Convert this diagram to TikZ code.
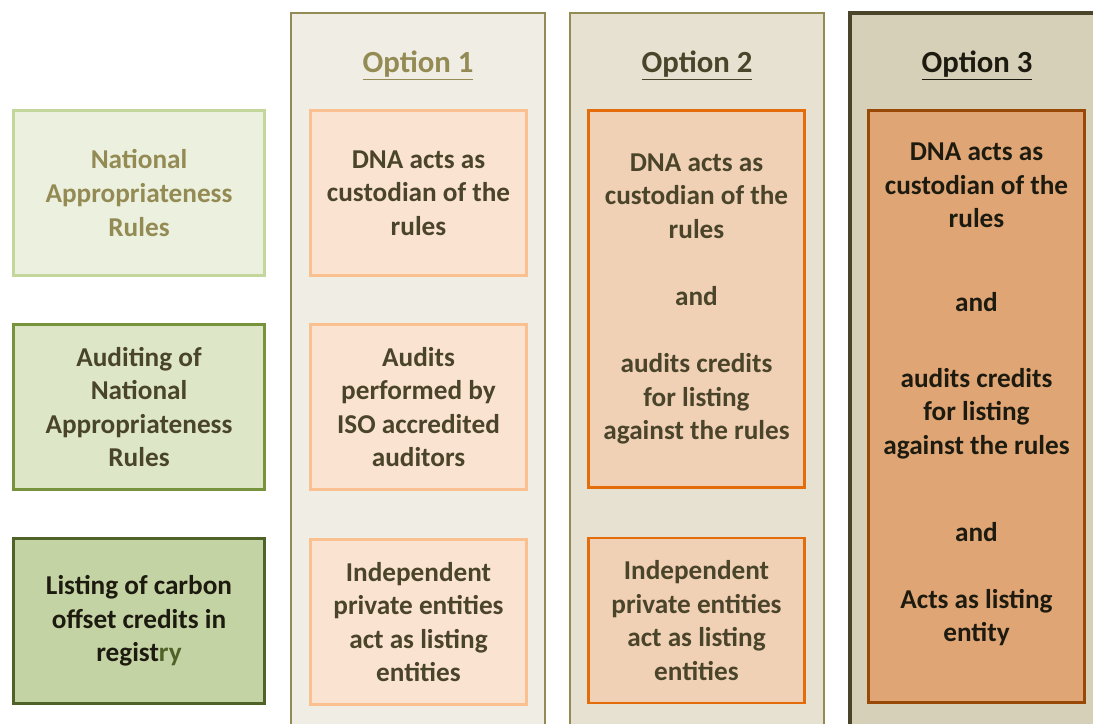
\documentclass[tikz,border=0pt]{standalone}
\usepackage{fontspec}
\setmainfont{Carlito}

\definecolor{colonefill}{HTML}{EFEDE4}
\definecolor{coltwofill}{HTML}{E6E1D0}
\definecolor{colthreefill}{HTML}{D6D0B8}
\definecolor{colline}{HTML}{948A54}
\definecolor{colthreeline}{HTML}{4A452A}
\definecolor{txtolive}{HTML}{948A54}
\definecolor{txtbrown}{HTML}{4A452A}
\definecolor{txtdark}{HTML}{1D1B10}
\definecolor{ruleafill}{HTML}{EBF1DE}
\definecolor{rulealine}{HTML}{C3D69B}
\definecolor{rulebfill}{HTML}{DDE7C8}
\definecolor{ruleblline}{HTML}{77933C}
\definecolor{rulecfill}{HTML}{C4D3A4}
\definecolor{ruleclline}{HTML}{4F6228}
\definecolor{optafill}{HTML}{FBE3D2}
\definecolor{optaline}{HTML}{FAC090}
\definecolor{optbfill}{HTML}{F1D1B5}
\definecolor{optbline}{HTML}{E46C0A}
\definecolor{optcfill}{HTML}{E0A574}
\definecolor{optcline}{HTML}{984807}

\tikzset{
  boxtext/.style={align=center, font=\bfseries\fontsize{15.5}{19.1}\selectfont},
  rowbox/.style={draw, boxtext, line width=1.6pt, minimum width=5.02cm, minimum height=3.3cm},
  optbox/.style={draw, boxtext, line width=1.6pt, minimum width=4.32cm, minimum height=3.3cm},
  opthead/.style={anchor=base, font=\bfseries\fontsize{17.5}{21}\selectfont},
}

\begin{document}
\begin{tikzpicture}[x=0.02cm, y=-0.02cm]
            \useasboundingbox (0,0) rectangle (1093,724);

            % column backgrounds
            \fill[colonefill] (291,13) rectangle (545,724);
            \draw[colline, line width=1.6pt] (291,724) -- (291,13) -- (545,13) -- (545,724);
            \fill[coltwofill] (570,13) rectangle (824,724);
            \draw[colline, line width=1.6pt] (570,724) -- (570,13) -- (824,13) -- (824,724);
            \fill[colthreefill] (850,13) rectangle (1093,724);
            \draw[colthreeline, line width=1.8pt] (850,724) -- (850,13) -- (1093,13);

            \node[opthead, text=txtolive] (OA) at (418,72) {\underline{Option 1}};
            \node[opthead, text=txtbrown] (OB) at (697,72) {\underline{Option 2}};
            \node[opthead, text=txtdark] (OC) at (977,72) {\underline{Option 3}};

            % row labels
            \node[rowbox, draw=rulealine, fill=ruleafill, text=txtolive] (RA) at (139,193) {National\\Appropriateness\\Rules};
            \node[rowbox, draw=ruleblline, fill=rulebfill, text=txtbrown] (RB) at (139,407) {Auditing of\\National\\Appropriateness\\Rules};
            \node[rowbox, draw=ruleclline, fill=rulecfill, text=txtdark] (RC) at (139,621) {Listing of carbon\\offset credits in\\regist\textcolor{ruleclline}{ry}};

            % option 1
            \node[optbox, draw=optaline, fill=optafill, text=txtbrown] (AA) at (418.5,193) {DNA acts as\\custodian of the\\rules};
            \node[optbox, draw=optaline, fill=optafill, text=txtbrown] (AB) at (418.5,407) {Audits\\performed by\\ISO accredited\\auditors};
            \node[optbox, draw=optaline, fill=optafill, text=txtbrown] (AC) at (418.5,622) {Independent\\private entities\\act as listing\\entities};

            % option 2
            \node[optbox, draw=optbline, fill=optbfill, text=txtbrown, minimum height=7.54cm] (BA) at (696.5,299) {DNA acts as\\custodian of the\\rules\\[19.1pt]and\\[19.1pt]audits credits\\for listing\\against the rules};
            \node[optbox, draw=optbline, fill=optbfill, text=txtbrown] (BC) at (696.5,620.5) {Independent\\private entities\\act as listing\\entities};

            % option 3
            \node[optbox, draw=optcline, fill=optcfill, minimum height=11.84cm] (CA) at (976.5,406.5) {};
            \node[boxtext, text=txtdark] (CT) at (976.5,394.5) {DNA acts as\\custodian of the\\rules\\[28.7pt]and\\[24pt]audits credits\\for listing\\against the rules\\[30.3pt]and\\[19pt]Acts as listing\\entity};
        \end{tikzpicture}
\end{document}
